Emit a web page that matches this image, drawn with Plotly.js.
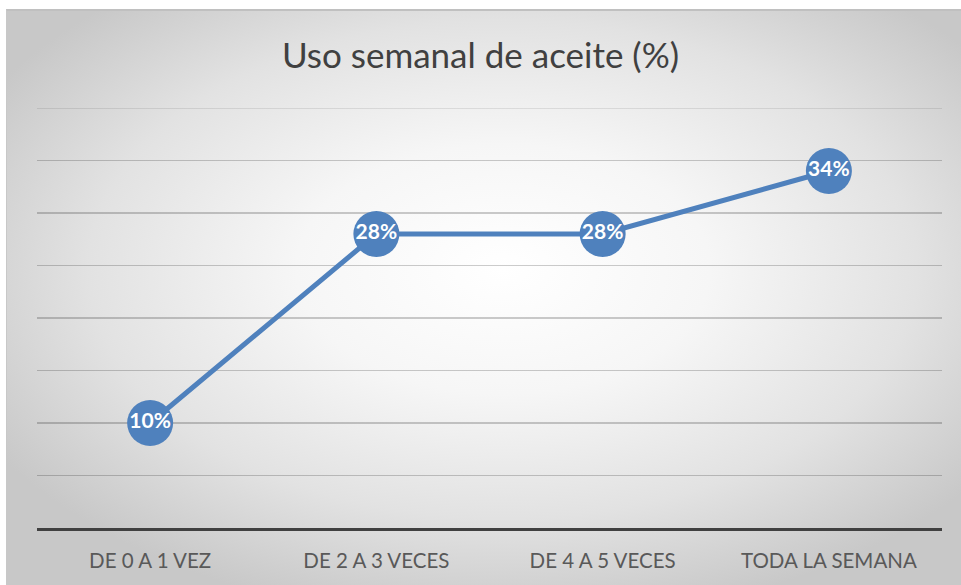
<!DOCTYPE html>
<html>
<head>
<meta charset="utf-8">
<script src="https://cdn.plot.ly/plotly-3.0.1.min.js"></script>
<style>
  html, body { margin: 0; padding: 0; background: #ffffff; }
  #wrap { position: relative; width: 961px; height: 585px; overflow: hidden; }
  #bg {
    position: absolute; left: 6px; top: 9px; width: 955px; height: 576px;
    background: radial-gradient(ellipse 62% 62% at 52% 45%, #ffffff 0%, #f6f6f6 35%, #e2e2e2 70%, #c8c8c8 100%);
    border-top: 2px solid #c0c0c0; border-left: 1px solid #c8c8c8; box-sizing: border-box;
  }
  #chart { position: absolute; left: 0; top: 0; width: 961px; height: 585px; }
</style>
</head>
<body>
<div id="wrap"><div id="bg"></div><div id="chart"></div></div>
<script>
const categories = ["DE 0 A 1 VEZ", "DE 2 A 3 VECES", "DE 4 A 5 VECES", "TODA LA SEMANA"];
const values = [10, 28, 28, 34];
const labels = ["10%", "28%", "28%", "34%"];
const yMax = 40;

const trace = {
  x: categories,
  y: values,
  type: "scatter",
  mode: "lines+markers+text",
  text: labels,
  textposition: "middle center",
  textfont: { family: "Lato, sans-serif", size: 21, color: "#ffffff", weight: "bold" },
  line: { color: "#4f81bd", width: 5 },
  marker: { size: 46, color: "#4f81bd" },
  hoverinfo: "skip",
  cliponaxis: false
};

const layout = {
  width: 961, height: 585,
  margin: { l: 37, r: 19, t: 108, b: 57 },
  paper_bgcolor: "rgba(0,0,0,0)",
  plot_bgcolor: "rgba(0,0,0,0)",
  showlegend: false,
  title: {
    text: "Uso semanal de aceite (%)",
    font: { family: "Lato, sans-serif", size: 35, color: "#404040" },
    x: 0.5, xanchor: "center", y: 0.905, yanchor: "middle"
  },
  xaxis: {
    type: "category",
    range: [-0.5, 3.5],
    showgrid: false,
    showline: true, linecolor: "#404040", linewidth: 3,
    ticks: "", ticklabelstandoff: 12,
    tickfont: { family: "Lato, sans-serif", size: 20.5, color: "#595959" },
    fixedrange: true
  },
  yaxis: {
    range: [0, yMax], dtick: 5,
    showticklabels: false,
    showgrid: true, gridcolor: "rgba(0,0,0,0.2)", gridwidth: 1.5,
    zeroline: false, showline: false, ticks: "",
    fixedrange: true
  },
  shapes: [{
    type: "line", xref: "paper", x0: 0, x1: 1, yref: "y", y0: yMax, y1: yMax,
    line: { color: "rgba(0,0,0,0.12)", width: 1.5 }, layer: "below"
  }]
};

Plotly.newPlot("chart", [trace], layout, { displayModeBar: false, staticPlot: true });
</script>
</body>
</html>
